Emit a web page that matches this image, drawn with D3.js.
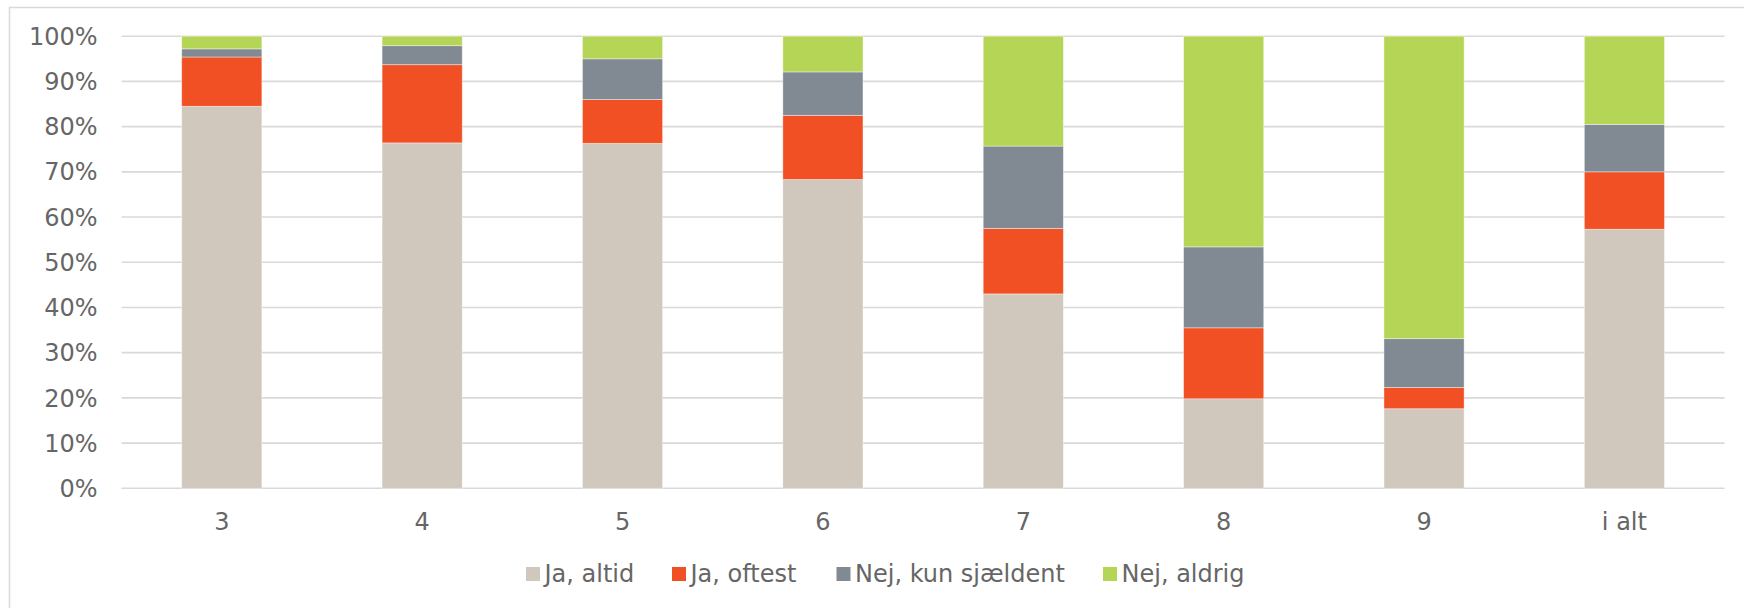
<!DOCTYPE html>
<html>
<head>
<meta charset="utf-8">
<script src="https://cdn.jsdelivr.net/npm/d3@7"></script>
<style>
  html, body { margin: 0; padding: 0; background: #fff; }
  svg { display: block; }
  text { font-family: "DejaVu Sans", Verdana, sans-serif; fill: #666; }
</style>
</head>
<body>
<svg id="chart" width="1744" height="608"></svg>
<script>
const categories = ["3", "4", "5", "6", "7", "8", "9", "i alt"];
const seriesNames = ["Ja, altid", "Ja, oftest", "Nej, kun sjældent", "Nej, aldrig"];
const jaAltid     = [84.5, 76.4, 76.3, 68.3, 43.0, 19.8, 17.6, 57.3];
const jaOftest    = [10.9, 17.3,  9.7, 14.2, 14.5, 15.7,  4.7, 12.7];
const nejSjaelden = [ 1.8,  4.2,  9.0,  9.6, 18.2, 17.9, 10.8, 10.5];
const nejAldrig   = [ 2.8,  2.1,  5.0,  7.9, 24.3, 46.6, 66.9, 19.5];
const yTicks = [0, 10, 20, 30, 40, 50, 60, 70, 80, 90, 100];
const colors = ["#D0C8BC", "#F05023", "#818A93", "#B5D557"];

(function () {
const seriesValues = [jaAltid, jaOftest, nejSjaelden, nejAldrig];
const rows = categories.map((c, i) => {
  const r = { cat: c };
  seriesNames.forEach((s, k) => r[s] = seriesValues[k][i]);
  return r;
});

const svg = d3.select("#chart");
const pLeft = 121.6, pRight = 1724.6, pTop = 36.2, pBottom = 488.3;

// outer frame
svg.append("rect")
  .attr("x", 9.5).attr("y", 7.5)
  .attr("width", 1780).attr("height", 640)
  .attr("fill", "none").attr("stroke", "#d9d9d9").attr("stroke-width", 1.5);

const x = d3.scaleBand().domain(categories).range([pLeft, pRight])
  .paddingInner(0.6).paddingOuter(0.3);
const y = d3.scaleLinear().domain([0, 100]).range([pBottom, pTop]);

// gridlines
svg.append("g").selectAll("line").data(yTicks).join("line")
  .attr("x1", pLeft).attr("x2", pRight)
  .attr("y1", d => y(d)).attr("y2", d => y(d))
  .attr("stroke", "#d9d9d9").attr("stroke-width", 1.6);

// y labels
svg.append("g").selectAll("text").data(yTicks).join("text")
  .attr("x", 97.5).attr("y", d => y(d)).attr("dy", "0.36em")
  .attr("text-anchor", "end").style("font-size", "24px")
  .text(d => d + "%");

// stacked bars
const stack = d3.stack().keys(seriesNames)(rows);
svg.append("g").selectAll("g").data(stack).join("g")
  .attr("fill", (d, i) => colors[i])
  .selectAll("rect").data(d => d).join("rect")
  .attr("x", d => x(d.data.cat))
  .attr("width", x.bandwidth())
  .attr("y", d => y(d[1]))
  .attr("height", d => y(d[0]) - y(d[1]))
  .attr("stroke", "#ffffff").attr("stroke-opacity", 0.5).attr("stroke-width", 0.8);

// x labels
svg.append("g").selectAll("text").data(categories).join("text")
  .attr("x", d => x(d) + x.bandwidth() / 2).attr("y", 529.5)
  .attr("text-anchor", "middle").style("font-size", "24px")
  .text(d => d);

const legendX = [526, 672, 836.5, 1103];
const items = svg.append("g").selectAll("g").data(seriesNames).join("g")
  .attr("transform", (d, i) => `translate(${legendX[i]},0)`);
items.append("rect").attr("width", 14).attr("height", 14)
  .attr("y", 567).attr("fill", (d, i) => colors[i]);
items.append("text").attr("x", 18.5).attr("y", 581.5)
  .style("font-size", "24px").text(d => d);
})();
</script>
</body>
</html>
